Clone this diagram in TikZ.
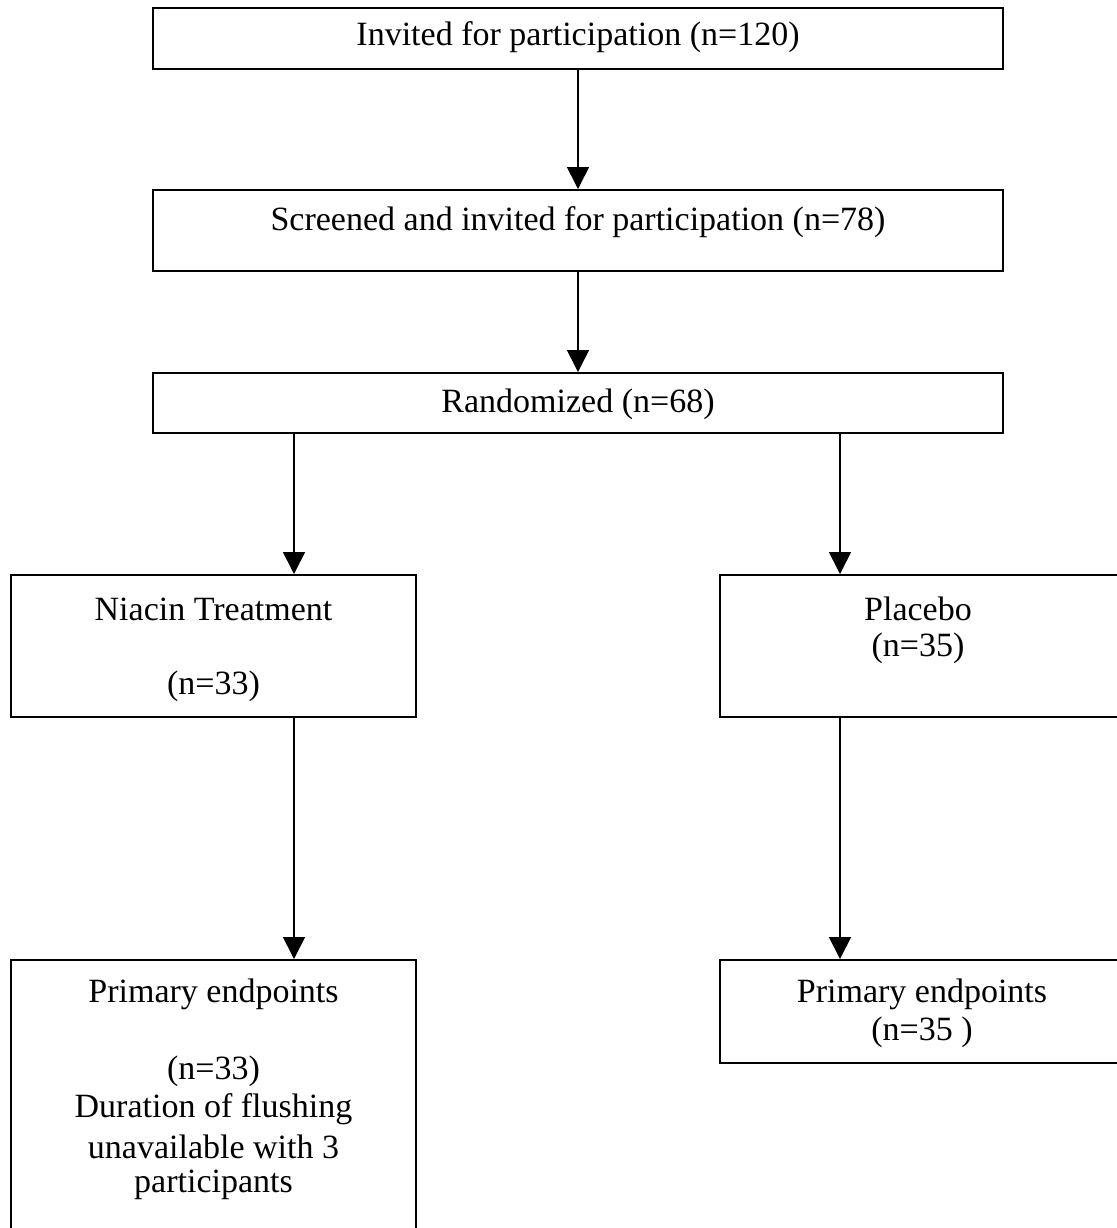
\documentclass[tikz,border=0pt]{standalone}
\usepackage{fontspec}
\setmainfont{Liberation Serif}
\usepackage{tikz}
\usetikzlibrary{arrows.meta}

\tikzset{
  box/.style={draw, line width=1pt, inner sep=0pt, rectangle},
  txt/.style={inner sep=0pt, font=\fontsize{17pt}{19pt}\selectfont},
}

\begin{document}
\begin{tikzpicture}[x=0.5pt,y=-0.5pt]
		\useasboundingbox (0,0) rectangle (1117,1228);
		\clip (0,0) rectangle (1117,1228);
		% boxes
		\node[box, minimum width=425pt, minimum height=30.5pt] (invited) at (578,38.5) {};
		\node[box, minimum width=425pt, minimum height=40.5pt] (screened) at (578,230.5) {};
		\node[box, minimum width=425pt, minimum height=30pt] (random) at (578,403) {};
		\node[box, minimum width=202.5pt, minimum height=71pt] (niacin) at (213.5,646) {};
		\node[box, minimum width=202.5pt, minimum height=71pt] (placebo) at (922.5,646) {};
		\node[box, minimum width=202.5pt, minimum height=160pt] (endL) at (213.5,1120) {};
		\node[box, minimum width=202.5pt, minimum height=51.5pt] (endR) at (922.5,1011.5) {};
		%
		\node[txt] (t1) at (578,37) {Invited for participation (n=120)};
		\node[txt] (t2) at (578,222) {Screened and invited for participation (n=78)};
		\node[txt] (t3) at (578,404) {Randomized (n=68)};
		\node[txt] (t4) at (213.5,609) {Niacin Treatment};
		\node[txt] (t5) at (213.5,686) {(n=33)};
		\node[txt] (t6) at (918,609) {Placebo};
		\node[txt] (t7) at (918,648) {(n=35)};
		\node[txt] (t8) at (213.5,994) {Primary endpoints};
		\node[txt] (t9) at (213.5,1071) {(n=33)};
		\node[txt] (t10) at (213.5,1109) {Duration of flushing};
		\node[txt] (t11) at (213.5,1147) {unavailable with 3};
		\node[txt] (t12) at (213.5,1185) {participants};
		\node[txt] (t13) at (922,994) {Primary endpoints};
		\node[txt] (t14) at (922,1032) {(n=35 )};
		%
		\coordinate (lcol) at (294,0);
		\coordinate (rcol) at (840,0);
		\path[-{Triangle[width=11pt,length=11pt]},line width=0.8pt]
		(invited) edge (screened)
		(screened) edge (random)
		(random.south -| lcol) edge (niacin.north -| lcol)
		(random.south -| rcol) edge (placebo.north -| rcol)
		(niacin.south -| lcol) edge (endL.north -| lcol)
		(placebo.south -| rcol) edge (endR.north -| rcol);
\end{tikzpicture}
\end{document}
